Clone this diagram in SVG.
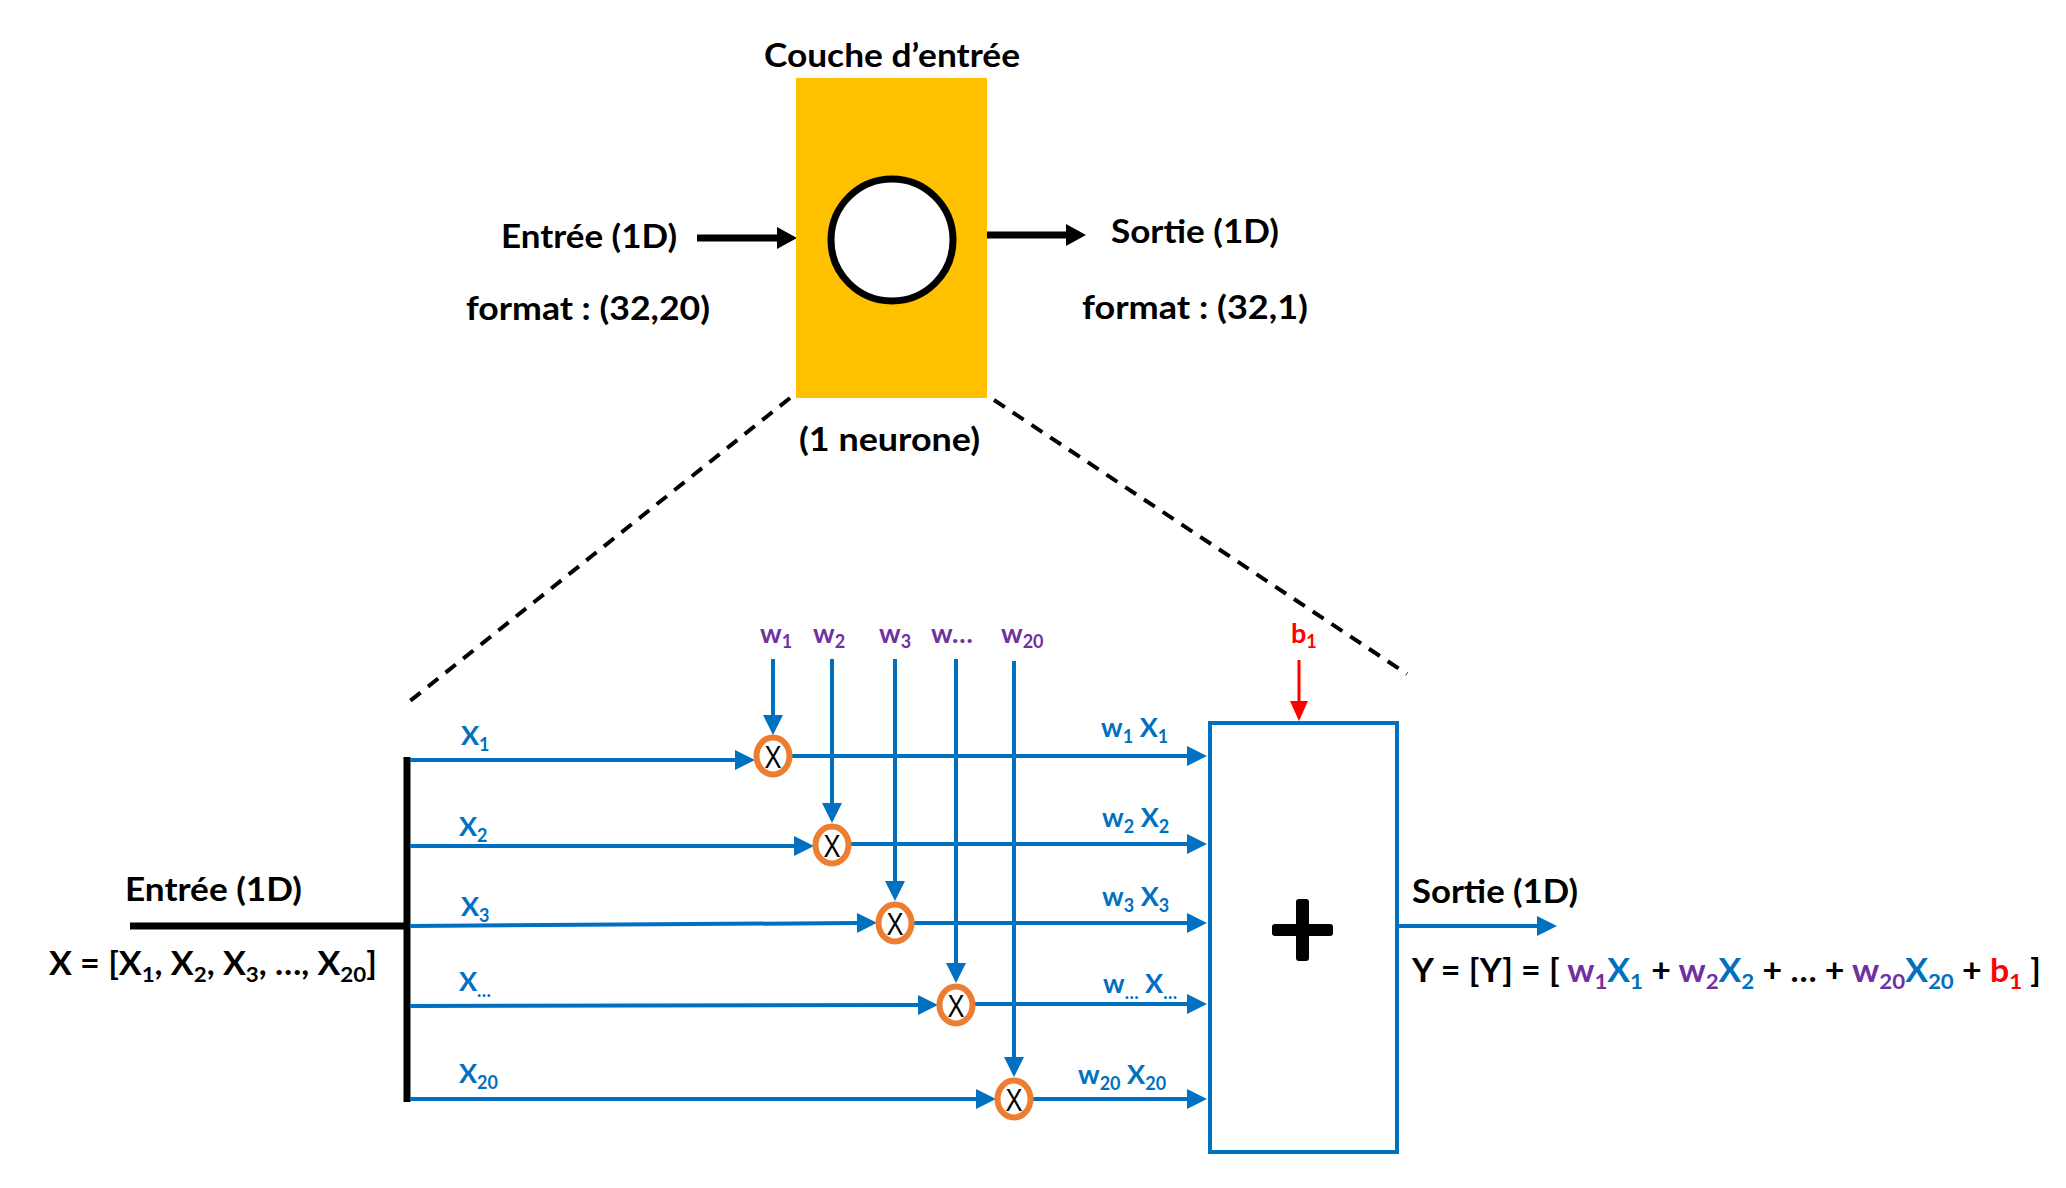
<svg xmlns="http://www.w3.org/2000/svg" width="2066" height="1188" viewBox="0 0 2066 1188">
<defs>
<style>
text{font-family:"Lato","Open Sans","Liberation Sans",sans-serif;font-weight:bold}
.blk{fill:#000;font-size:32px}
.bl{fill:#0070C0;font-size:27px}
.pu{fill:#7030A0}
.re{fill:#FF0000}
.k{fill:#000}
.b{fill:#0070C0}
.wire{stroke:#0070C0;stroke-width:4;fill:none}
.dash{stroke:#000;stroke-width:4;stroke-dasharray:13 9.5;fill:none}
.mul{fill:#fff;stroke:#ED7D31;stroke-width:6}
.mx{font-family:"Liberation Sans",sans-serif;font-weight:normal;font-size:32px;fill:#000}
</style>
<marker id="ab" markerUnits="userSpaceOnUse" markerWidth="20" markerHeight="20" refX="0" refY="10" orient="auto" overflow="visible"><path d="M0,0 L20,10 L0,20 z" fill="#0070C0"/></marker>
<marker id="ak" markerUnits="userSpaceOnUse" markerWidth="20" markerHeight="22" refX="0" refY="11" orient="auto" overflow="visible"><path d="M0,0 L20,11 L0,22 z" fill="#000"/></marker>
<marker id="ar" markerUnits="userSpaceOnUse" markerWidth="18" markerHeight="20" refX="0" refY="9" orient="auto" overflow="visible"><path d="M0,0 L20,9 L0,18 z" fill="#FF0000"/></marker>
</defs>
<rect width="2066" height="1188" fill="#fff"/>

<g id="connectors">
<line x1="697" y1="238" x2="777" y2="238" stroke="#000" stroke-width="7" marker-end="url(#ak)"/>
<line x1="987" y1="235" x2="1066" y2="235" stroke="#000" stroke-width="7" marker-end="url(#ak)"/>
<line class="dash" x1="790" y1="398" x2="410" y2="701"/>
<line class="dash" x1="994" y1="400" x2="1407" y2="674"/>
<line x1="407" y1="757" x2="407" y2="1102" stroke="#000" stroke-width="7"/>
<line x1="130" y1="926" x2="410" y2="926" stroke="#000" stroke-width="7"/>
<line class="wire" x1="410" y1="760" x2="735" y2="760" marker-end="url(#ab)"/>
<line class="wire" x1="410" y1="846" x2="794" y2="846" marker-end="url(#ab)"/>
<line class="wire" x1="410" y1="926" x2="857" y2="923" marker-end="url(#ab)"/>
<line class="wire" x1="410" y1="1006" x2="918" y2="1005" marker-end="url(#ab)"/>
<line class="wire" x1="410" y1="1099" x2="976" y2="1099" marker-end="url(#ab)"/>
<line class="wire" x1="791" y1="756" x2="1187" y2="756" marker-end="url(#ab)"/>
<line class="wire" x1="850" y1="844" x2="1187" y2="844" marker-end="url(#ab)"/>
<line class="wire" x1="913" y1="923" x2="1187" y2="923" marker-end="url(#ab)"/>
<line class="wire" x1="974" y1="1004" x2="1187" y2="1004" marker-end="url(#ab)"/>
<line class="wire" x1="1032" y1="1099" x2="1187" y2="1099" marker-end="url(#ab)"/>
<line class="wire" x1="773" y1="659" x2="773" y2="715" marker-end="url(#ab)"/>
<line class="wire" x1="832" y1="659" x2="832" y2="803" marker-end="url(#ab)"/>
<line class="wire" x1="895" y1="659" x2="895" y2="881" marker-end="url(#ab)"/>
<line class="wire" x1="956" y1="659" x2="956" y2="963" marker-end="url(#ab)"/>
<line class="wire" x1="1014" y1="661" x2="1014" y2="1057" marker-end="url(#ab)"/>
<line x1="1299" y1="660" x2="1299" y2="701" stroke="#FF0000" stroke-width="3" marker-end="url(#ar)"/>
<line class="wire" x1="1399" y1="926" x2="1537" y2="926" marker-end="url(#ab)"/>
</g>

<g id="layer">
<rect x="796" y="78" width="191" height="320" fill="#FFC000"/>
<circle cx="892" cy="240" r="61" fill="#fff" stroke="#000" stroke-width="7"/>
<text class="blk" x="764" y="67" textLength="256" lengthAdjust="spacingAndGlyphs">Couche d’entrée</text>
<text class="blk" x="799" y="451" textLength="181" lengthAdjust="spacingAndGlyphs">(1 neurone)</text>
</g>
<g id="input-top">
<text class="blk" x="501" y="248" textLength="176" lengthAdjust="spacingAndGlyphs">Entrée (1D)</text>
<text class="blk" x="466" y="320" textLength="244" lengthAdjust="spacingAndGlyphs">format : (32,20)</text>
</g>
<g id="output-top">
<text class="blk" x="1111" y="243" textLength="168" lengthAdjust="spacingAndGlyphs">Sortie (1D)</text>
<text class="blk" x="1082" y="319" textLength="226" lengthAdjust="spacingAndGlyphs">format : (32,1)</text>
</g>

<g id="input-bottom">
<text class="blk" x="125" y="901" textLength="177" lengthAdjust="spacingAndGlyphs">Entrée (1D)</text>
<text class="blk" x="49" y="975" textLength="328" lengthAdjust="spacingAndGlyphs">X = [X<tspan font-size="21" dy="7">1</tspan><tspan dy="-7">, X</tspan><tspan font-size="21" dy="7">2</tspan><tspan dy="-7">, X</tspan><tspan font-size="21" dy="7">3</tspan><tspan dy="-7">, …, X</tspan><tspan font-size="21" dy="7">20</tspan><tspan dy="-7">]</tspan></text>
</g>

<g id="x-labels">
<text class="bl" x="461" y="745">X<tspan font-size="18" dy="6">1</tspan></text>
<text class="bl" x="459" y="836">X<tspan font-size="18" dy="6">2</tspan></text>
<text class="bl" x="461" y="916">X<tspan font-size="18" dy="6">3</tspan></text>
<text class="bl" x="459" y="991">X<tspan font-size="18" dy="6">…</tspan></text>
<text class="bl" x="459" y="1083">X<tspan font-size="18" dy="6">20</tspan></text>
</g>

<g id="w-labels">
<text class="bl pu" x="760" y="643">w<tspan font-size="18" dy="5">1</tspan></text>
<text class="bl pu" x="813" y="643">w<tspan font-size="18" dy="5">2</tspan></text>
<text class="bl pu" x="879" y="643">w<tspan font-size="18" dy="5">3</tspan></text>
<text class="bl pu" x="931" y="643">w…</text>
<text class="bl pu" x="1001" y="643">w<tspan font-size="18" dy="5">20</tspan></text>
<text class="bl re" x="1291" y="643">b<tspan font-size="18" dy="5">1</tspan></text>
</g>

<g id="mul1"><ellipse class="mul" cx="773" cy="756" rx="16.5" ry="18.5"/><text class="mx" x="764.5" y="767.5" textLength="17" lengthAdjust="spacingAndGlyphs">X</text></g>
<g id="mul2"><ellipse class="mul" cx="832" cy="845" rx="16.5" ry="18.5"/><text class="mx" x="823.5" y="856.5" textLength="17" lengthAdjust="spacingAndGlyphs">X</text></g>
<g id="mul3"><ellipse class="mul" cx="895" cy="923" rx="16.5" ry="18.5"/><text class="mx" x="886.5" y="934.5" textLength="17" lengthAdjust="spacingAndGlyphs">X</text></g>
<g id="mul4"><ellipse class="mul" cx="956" cy="1005" rx="16.5" ry="18.5"/><text class="mx" x="947.5" y="1016.5" textLength="17" lengthAdjust="spacingAndGlyphs">X</text></g>
<g id="mul5"><ellipse class="mul" cx="1014" cy="1099" rx="16.5" ry="18.5"/><text class="mx" x="1005.5" y="1110.5" textLength="17" lengthAdjust="spacingAndGlyphs">X</text></g>

<g id="products">
<text class="bl" x="1101" y="737">w<tspan font-size="18" dy="6">1</tspan><tspan dy="-6"> X</tspan><tspan font-size="18" dy="6">1</tspan></text>
<text class="bl" x="1102" y="827">w<tspan font-size="18" dy="6">2</tspan><tspan dy="-6"> X</tspan><tspan font-size="18" dy="6">2</tspan></text>
<text class="bl" x="1102" y="906">w<tspan font-size="18" dy="6">3</tspan><tspan dy="-6"> X</tspan><tspan font-size="18" dy="6">3</tspan></text>
<text class="bl" x="1103" y="993">w<tspan font-size="18" dy="6">…</tspan><tspan dy="-6"> X</tspan><tspan font-size="18" dy="6">…</tspan></text>
<text class="bl" x="1078" y="1084">w<tspan font-size="18" dy="6">20</tspan><tspan dy="-6"> X</tspan><tspan font-size="18" dy="6">20</tspan></text>
</g>

<g id="sum">
<rect x="1210" y="723" width="187" height="429" fill="#fff" stroke="#0070C0" stroke-width="4"/>
<rect x="1272" y="924" width="61" height="12" rx="3" fill="#000"/>
<rect x="1296" y="899" width="13" height="62" rx="3" fill="#000"/>
</g>

<g id="output-bottom">
<text class="blk" x="1412" y="903" textLength="166" lengthAdjust="spacingAndGlyphs">Sortie (1D)</text>
<text class="blk" x="1412" y="982" textLength="629" lengthAdjust="spacingAndGlyphs">Y = [Y] = [ <tspan class="pu">w</tspan><tspan class="pu" font-size="21" dy="7">1</tspan><tspan class="b" dy="-7">X</tspan><tspan class="b" font-size="21" dy="7">1</tspan><tspan class="k" dy="-7"> + </tspan><tspan class="pu">w</tspan><tspan class="pu" font-size="21" dy="7">2</tspan><tspan class="b" dy="-7">X</tspan><tspan class="b" font-size="21" dy="7">2</tspan><tspan class="k" dy="-7"> + … + </tspan><tspan class="pu">w</tspan><tspan class="pu" font-size="21" dy="7">20</tspan><tspan class="b" dy="-7">X</tspan><tspan class="b" font-size="21" dy="7">20</tspan><tspan class="k" dy="-7"> + </tspan><tspan class="re">b</tspan><tspan class="re" font-size="21" dy="7">1</tspan><tspan class="k" dy="-7"> ]</tspan></text>
</g>
</svg>
